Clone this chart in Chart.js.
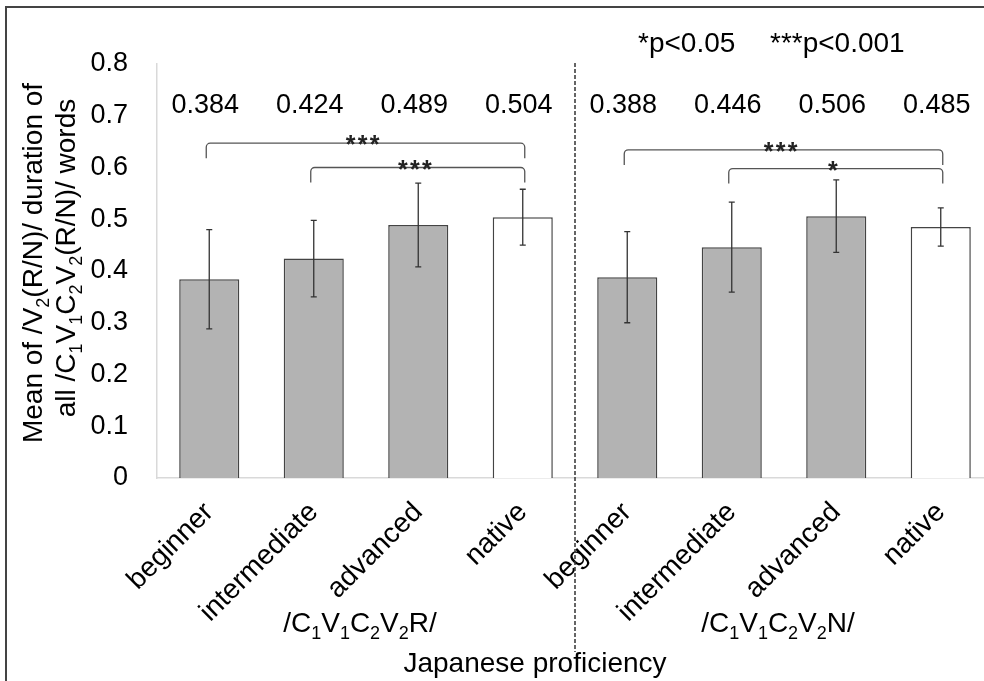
<!DOCTYPE html>
<html>
<head>
<meta charset="utf-8">
<script src="https://cdn.jsdelivr.net/npm/chart.js@4.4.1/dist/chart.umd.min.js"></script>
<style>
  html, body { margin: 0; padding: 0; background: #fff; overflow: hidden; }
  #wrap { width: 1000px; height: 681px; }
</style>
</head>
<body>
<div id="wrap"><canvas id="chart" width="1000" height="681"></canvas></div>
<script>
// proficiency levels, repeated for each word type
const levels = ['beginner', 'intermediate', 'advanced', 'native'];
const wordTypes = ['/C_1V_1C_2V_2R/', '/C_1V_1C_2V_2N/'];

// mean ratio and standard deviation per level
const meanR = [0.384, 0.424, 0.489, 0.504];
const meanN = [0.388, 0.446, 0.506, 0.485];
const sdR = [0.096, 0.074, 0.081, 0.054];
const sdN = [0.088, 0.087, 0.070, 0.037];

const yTicks = [0, 0.1, 0.2, 0.3, 0.4, 0.5, 0.6, 0.7, 0.8];

// significance brackets: bar indices, stars, bracket height in data units
const comparisons = [
  { from: 0, to: 3, stars: '***', level: 0.647 },
  { from: 1, to: 3, stars: '***', level: 0.600 },
  { from: 4, to: 7, stars: '***', level: 0.634 },
  { from: 5, to: 7, stars: '*', level: 0.598 }
];

const labels = [...levels, ...levels];
const means = [...meanR, ...meanN];
const sds = [...sdR, ...sdN];

const FONT = '"Liberation Sans", Arial, Helvetica, sans-serif';

// "_2" marks a subscript digit
function splitSubs(text) {
  const parts = [];
  text.split(/(_\d)/).forEach(p => {
    if (!p) return;
    if (p[0] === '_') parts.push({ t: p.slice(1), sub: true });
    else parts.push({ t: p, sub: false });
  });
  return parts;
}

function drawRich(ctx, text, x, y, size) {
  const parts = splitSubs(text);
  const subSize = Math.round(size * 0.66);
  let w = 0;
  parts.forEach(p => {
    ctx.font = `${p.sub ? subSize : size}px ${FONT}`;
    p.w = ctx.measureText(p.t).width;
    w += p.w;
  });
  let cx = x - w / 2;
  ctx.textAlign = 'left';
  ctx.textBaseline = 'alphabetic';
  parts.forEach(p => {
    ctx.font = `${p.sub ? subSize : size}px ${FONT}`;
    ctx.fillText(p.t, cx, p.sub ? y + size * 0.25 : y);
    cx += p.w;
  });
}

const frame = {
  id: 'frame',
  beforeDraw(chart) {
    const ctx = chart.ctx;
    ctx.save();
    ctx.fillStyle = '#fff';
    ctx.fillRect(0, 0, chart.width, chart.height);
    ctx.strokeStyle = '#444';
    ctx.lineWidth = 2;
    ctx.beginPath();
    ctx.moveTo(6, chart.height + 2);
    ctx.lineTo(6, 7);
    ctx.lineTo(chart.width + 2, 7);
    ctx.stroke();
    ctx.restore();
  }
};

const extras = {
  id: 'extras',
  afterDatasetsDraw(chart) {
    const ctx = chart.ctx;
    const x = chart.scales.x, y = chart.scales.y;
    ctx.save();

    // error bars
    ctx.strokeStyle = '#333';
    ctx.lineWidth = 1.3;
    means.forEach((m, i) => {
      const px = x.getPixelForValue(i);
      const top = y.getPixelForValue(m + sds[i]);
      const bot = y.getPixelForValue(m - sds[i]);
      ctx.beginPath();
      ctx.moveTo(px, top); ctx.lineTo(px, bot);
      ctx.moveTo(px - 3, top); ctx.lineTo(px + 3, top);
      ctx.moveTo(px - 3, bot); ctx.lineTo(px + 3, bot);
      ctx.stroke();
    });

    // value labels above each bar
    ctx.fillStyle = '#000';
    ctx.font = `27px ${FONT}`;
    ctx.textAlign = 'center';
    ctx.textBaseline = 'middle';
    means.forEach((m, i) => {
      ctx.fillText(m.toFixed(3), x.getPixelForValue(i) - 4, y.getPixelForValue(0.72));
    });

    // significance brackets
    ctx.strokeStyle = '#555';
    ctx.lineWidth = 1.3;
    comparisons.forEach(c => {
      const x1 = x.getPixelForValue(c.from) - 3;
      const x2 = x.getPixelForValue(c.to) + 2;
      const yl = y.getPixelForValue(c.level);
      const leg = 15, r = 4;
      ctx.beginPath();
      ctx.moveTo(x1, yl + leg);
      ctx.arcTo(x1, yl, x1 + r, yl, r);
      ctx.arcTo(x2, yl, x2, yl + r, r);
      ctx.lineTo(x2, yl + leg);
      ctx.stroke();
      const n = c.stars.length;
      const mid = (x1 + x2) / 2 - 3;
      ctx.fillStyle = '#222';
      ctx.font = `bold 25px ${FONT}`;
      ctx.textAlign = 'center';
      ctx.textBaseline = 'alphabetic';
      for (let k = 0; k < n; k++) {
        ctx.fillText('*', mid + (k - (n - 1) / 2) * 12, yl + 10);
      }
    });

    // dashed divider between the two word types
    const xd = (x.getPixelForValue(3) + x.getPixelForValue(4)) / 2;
    ctx.strokeStyle = '#333';
    ctx.lineWidth = 1.5;
    ctx.setLineDash([4, 2]);
    ctx.beginPath();
    ctx.moveTo(xd, 63);
    ctx.lineTo(xd, 652);
    ctx.stroke();
    ctx.setLineDash([]);

    // word type labels under each group
    ctx.fillStyle = '#000';
    wordTypes.forEach((t, g) => {
      const cx = (x.getPixelForValue(g * 4) + x.getPixelForValue(g * 4 + 3)) / 2 - 6;
      drawRich(ctx, t, cx, 632, 28);
    });

    // axis titles
    ctx.font = `28px ${FONT}`;
    ctx.textAlign = 'center';
    ctx.textBaseline = 'alphabetic';
    ctx.fillText('Japanese proficiency', 535, 672);

    ctx.save();
    ctx.translate(42, 263);
    ctx.rotate(-Math.PI / 2);
    drawRich(ctx, 'Mean of /V_2(R/N)/ duration of', 0, 0, 28);
    ctx.restore();
    ctx.save();
    ctx.translate(75, 258);
    ctx.rotate(-Math.PI / 2);
    drawRich(ctx, 'all /C_1V_1C_2V_2(R/N)/ words', 0, 0, 28);
    ctx.restore();

    // significance key
    ctx.font = `28px ${FONT}`;
    ctx.textAlign = 'left';
    ctx.fillText('*p<0.05', 638, 52);
    ctx.fillText('***p<0.001', 770, 52);

    ctx.restore();
  }
};

new Chart(document.getElementById('chart'), {
  type: 'bar',
  data: {
    labels: labels,
    datasets: [{
      data: means,
      backgroundColor: labels.map(l => l === 'native' ? '#ffffff' : '#b3b3b3'),
      borderColor: '#444',
      borderWidth: 1.5,
      barPercentage: 0.575,
      categoryPercentage: 1
    }]
  },
  options: {
    responsive: false,
    animation: false,
    layout: { padding: { top: 64, right: 7, left: 0, bottom: 0 } },
    plugins: { legend: { display: false }, tooltip: { enabled: false } },
    scales: {
      x: {
        grid: { display: false },
        border: { display: true, color: '#d9d9d9', width: 1.5 },
        ticks: {
          color: '#000',
          font: { family: FONT, size: 28 },
          minRotation: 45,
          maxRotation: 45,
          padding: 10,
          autoSkip: false
        },
        afterFit(scale) { scale.height = 203; }
      },
      y: {
        min: 0,
        max: 0.8,
        grid: { display: false, drawTicks: false },
        border: { display: true, color: '#d9d9d9', width: 1.5 },
        afterBuildTicks(scale) { scale.ticks = yTicks.map(v => ({ value: v })); },
        ticks: {
          color: '#000',
          font: { family: FONT, size: 27 },
          padding: 29,
          callback: v => v === 0 ? '0' : v.toFixed(1)
        },
        afterFit(scale) { scale.width = 157; }
      }
    }
  },
  plugins: [frame, extras]
});
</script>
</body>
</html>
